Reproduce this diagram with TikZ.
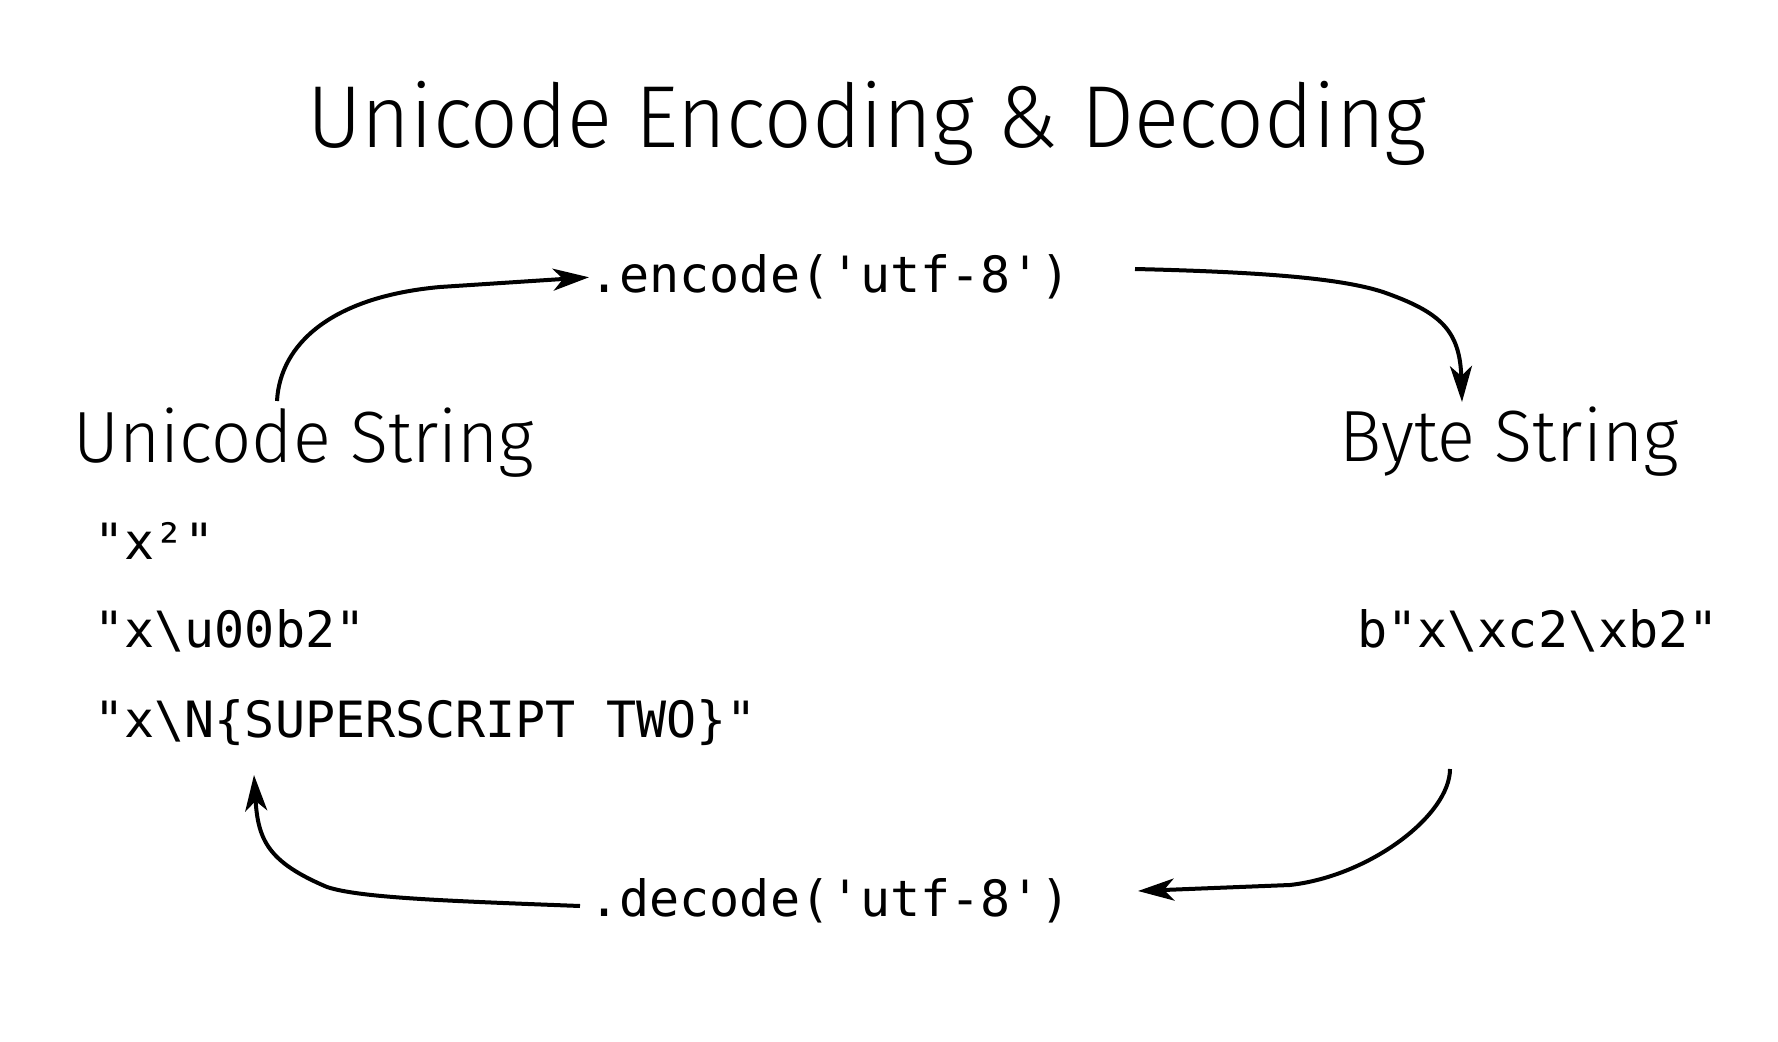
\documentclass[tikz,border=0pt]{standalone}
\usepackage{fontspec}
\setmonofont{DejaVu Sans Mono}
\newfontfamily\titlefont{Fira Sans Light}[FakeStretch=0.95]
\newfontfamily\labelfont{Fira Sans Light}[FakeStretch=0.97]
\usetikzlibrary{arrows.meta}
\begin{document}
\begin{tikzpicture}[x=0.5pt,y=-0.5pt,
  arr/.style={line width=2pt, -{Stealth[length=18pt,width=11pt,inset=5pt]}},
  code/.style={font=\ttfamily\fontsize{25}{30}\selectfont, inner sep=0pt, anchor=base west},
  lbl/.style={font=\labelfont\fontsize{36.3}{40}\selectfont, inner sep=0pt, anchor=base},
  ttl/.style={font=\titlefont\fontsize{44}{50}\selectfont, inner sep=0pt, anchor=base}]
\fill[white] (0,0) rectangle (1778,1042);
\useasboundingbox (0,0) rectangle (1778,1042);
\node[ttl] (title) at (867,148) {Unicode Encoding \& Decoding};
\node[lbl] (unicode) at (304,463) {Unicode String};
\node[lbl] (byte) at (1509,462) {Byte String};
\node[code] (encode) at (589,293) {.encode('utf-8')};
\node[code] (decode) at (589,916) {.decode('utf-8')};
\node[code] (s1) at (94,560) {"x²"};
\node[code] (s2) at (94,648) {"x\textbackslash u00b2"};
\node[code] (s3) at (94,737) {"x\textbackslash N\{SUPERSCRIPT TWO\}"};
\node[code] (b1) at (1357,648) {b"x\textbackslash xc2\textbackslash xb2"};
\coordinate (encstart) at (277,401);
\coordinate (encend) at (1135,269);
\coordinate (bytein) at (1462,402);
\coordinate (byteout) at (1450,769);
\coordinate (decin) at (1138,891);
\coordinate (decstart) at (580,906);
\coordinate (unicodein) at (254,775);
\draw[arr] (encstart) .. controls (280,345) and (330,297) .. (440,287) -- (encode.west);
\draw[arr] (encend) .. controls (1260,272) and (1340,278) .. (1383,292) .. controls (1440,312) and (1460,330) .. (bytein);
\draw[arr] (byteout) .. controls (1450,815) and (1370,876) .. (1290,885) -- (decin);
\draw[arr] (decstart) .. controls (450,901) and (360,898) .. (327,887) .. controls (268,862) and (258,840) .. (unicodein);
\end{tikzpicture}
\end{document}
